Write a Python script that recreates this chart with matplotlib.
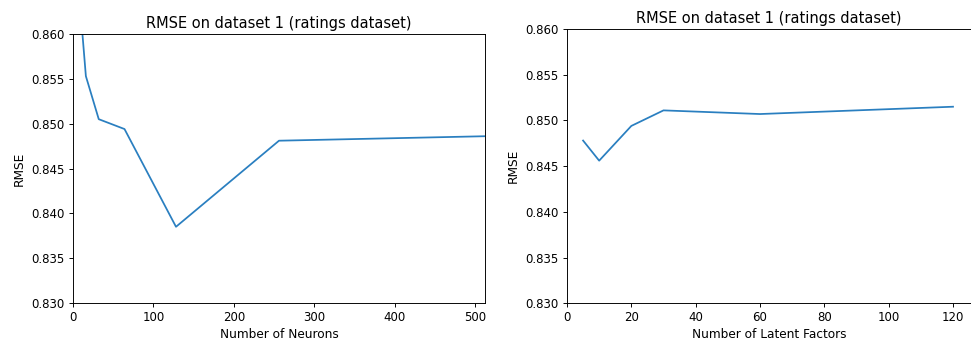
import matplotlib
matplotlib.use("Agg")
import matplotlib.pyplot as plt

neurons = [8, 16, 32, 64, 128, 256, 512]
rmse_neurons = [0.8641, 0.8553, 0.8505, 0.8494, 0.8385, 0.8481, 0.8486]

factors = [5, 10, 20, 30, 60, 120]
rmse_factors = [0.8478, 0.8456, 0.8494, 0.8511, 0.8507, 0.8515]

title = "RMSE on dataset 1 (ratings dataset)"
k = 1.17

fig = plt.figure(figsize=(971/72, 345/72), dpi=72)

ax1 = fig.add_axes([73/971, 42/345, 412/971, 269/345])
ax1.plot(neurons, rmse_neurons, color="#2a7fc0", linewidth=1.5*k)
ax1.set_xlim(0, 512)
ax1.set_ylim(0.830, 0.860)
ax1.set_yticks([0.830, 0.835, 0.840, 0.845, 0.850, 0.855, 0.860])
ax1.set_title(title, fontsize=14.6)
ax1.set_xlabel("Number of Neurons", fontsize=12.1)
ax1.set_ylabel("RMSE", fontsize=12.1, labelpad=6)

ax2 = fig.add_axes([567/971, 41.7/345, 404.5/971, 274.3/345])
ax2.plot(factors, rmse_factors, color="#2a7fc0", linewidth=1.5*k)
ax2.set_xlim(0, 125.75)
ax2.set_ylim(0.830, 0.860)
ax2.set_yticks([0.830, 0.835, 0.840, 0.845, 0.850, 0.855, 0.860])
ax2.set_title(title, fontsize=14.6)
ax2.set_xlabel("Number of Latent Factors", fontsize=12.1)
ax2.set_ylabel("RMSE", fontsize=12.1, labelpad=6)

for ax in (ax1, ax2):
    ax.yaxis.set_major_formatter(matplotlib.ticker.FormatStrFormatter("%.3f"))
    ax.tick_params(labelsize=10*k, length=3.5*k, width=0.8*k, pad=3.5*k)
    for s in ax.spines.values():
        s.set_linewidth(0.8*k)

fig.savefig("out.png", dpi=72)
